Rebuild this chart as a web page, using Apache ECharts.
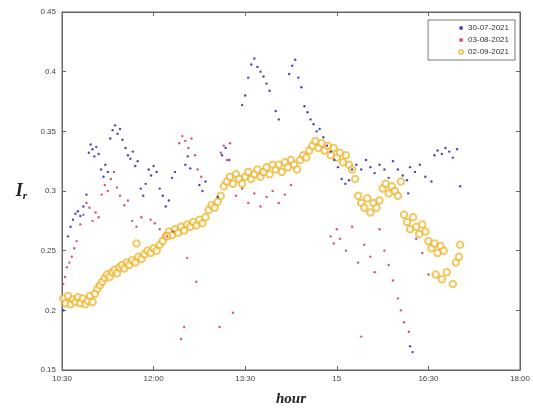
<!DOCTYPE html>
<html><head><meta charset="utf-8">
<script src="https://cdn.jsdelivr.net/npm/echarts@6/dist/echarts.min.js"></script>
<style>html,body{margin:0;padding:0;background:#fff}#c{width:533px;height:412px}</style>
</head><body><div id="c"></div>
<script>
// ---- data ----
var seriesNames = ['30-07-2021', '03-08-2021', '02-09-2021'];
var xTickLabels = ['10:30', '12:00', '13:30', '15', '16:30', '18:00'];

// 30-07-2021 (hour, I_r)
var blueT = [10.52,10.60,10.64,10.68,10.72,10.76,10.80,10.85,10.90,10.94,10.97,11.00,11.03,11.06,11.10,11.14,11.18,11.21,11.25,11.29,11.33,11.37,11.41,11.45,11.49,11.54,11.58,11.62,11.66,11.70,11.74,11.79,11.83,11.87,11.92,11.96,12.00,12.05,12.10,12.15,12.20,12.25,12.30,12.35,12.52,12.56,12.60,12.75,12.80,12.85,13.05,13.12,13.18,13.24,13.45,13.50,13.55,13.60,13.65,13.70,13.75,13.80,13.85,13.90,14.00,14.05,14.22,14.27,14.32,14.37,14.42,14.47,14.52,14.57,14.62,14.67,14.72,14.78,14.84,14.90,14.96,15.02,15.08,15.14,15.20,15.25,15.32,15.40,15.48,15.55,15.62,15.70,15.78,15.85,15.92,16.00,16.08,16.15,16.20,16.28,16.36,16.45,16.55,16.60,16.65,16.72,16.78,16.84,16.90,16.97,17.02,16.17,16.20,16.24];
var blueV = [0.200,0.262,0.270,0.276,0.281,0.283,0.279,0.287,0.297,0.332,0.339,0.335,0.329,0.337,0.331,0.318,0.312,0.322,0.316,0.344,0.351,0.355,0.348,0.352,0.343,0.336,0.330,0.327,0.333,0.321,0.325,0.302,0.296,0.306,0.318,0.313,0.321,0.316,0.302,0.296,0.287,0.292,0.311,0.316,0.322,0.329,0.319,0.305,0.300,0.308,0.295,0.330,0.336,0.326,0.372,0.380,0.395,0.406,0.411,0.404,0.400,0.396,0.390,0.384,0.367,0.360,0.398,0.405,0.410,0.395,0.387,0.371,0.366,0.360,0.356,0.350,0.352,0.345,0.338,0.333,0.326,0.320,0.310,0.306,0.309,0.318,0.322,0.318,0.326,0.320,0.315,0.322,0.318,0.311,0.325,0.318,0.313,0.309,0.320,0.316,0.322,0.312,0.308,0.330,0.334,0.331,0.336,0.333,0.328,0.335,0.304,0.298,0.170,0.165,0.160];

// 03-08-2021
var redT = [10.52,10.55,10.58,10.62,10.66,10.70,10.74,10.80,10.85,10.90,10.95,11.00,11.05,11.10,11.15,11.20,11.25,11.30,11.35,11.40,11.45,11.52,11.58,11.65,11.72,11.80,11.95,12.02,12.10,12.22,12.32,12.42,12.47,12.52,12.57,12.62,12.68,12.72,12.78,12.55,12.70,12.50,12.45,13.10,13.15,13.20,13.25,13.08,13.30,13.35,13.45,13.55,13.65,13.75,13.85,13.95,14.05,14.15,14.25,14.90,14.95,15.00,15.05,15.15,15.25,15.35,15.45,15.55,15.62,15.70,15.78,15.85,15.92,16.00,16.05,16.10,16.18,15.40,16.30,16.40,16.50];
var redV = [0.222,0.228,0.236,0.240,0.245,0.252,0.258,0.272,0.280,0.290,0.286,0.275,0.282,0.278,0.297,0.305,0.300,0.310,0.316,0.303,0.296,0.288,0.292,0.275,0.270,0.278,0.276,0.273,0.268,0.262,0.266,0.340,0.346,0.342,0.336,0.344,0.330,0.318,0.312,0.244,0.224,0.186,0.176,0.332,0.338,0.326,0.340,0.186,0.198,0.296,0.302,0.290,0.298,0.287,0.295,0.300,0.290,0.297,0.305,0.262,0.256,0.268,0.260,0.250,0.270,0.240,0.255,0.245,0.232,0.268,0.250,0.238,0.225,0.210,0.200,0.190,0.182,0.178,0.260,0.248,0.230];

// 02-09-2021
var yelT = [10.52,10.56,10.60,10.64,10.68,10.72,10.76,10.80,10.84,10.88,10.92,10.96,11.00,11.04,11.08,11.12,11.16,11.20,11.24,11.28,11.32,11.36,11.40,11.44,11.48,11.52,11.56,11.60,11.65,11.70,11.75,11.80,11.85,11.90,11.95,12.00,12.05,12.10,12.15,12.20,12.25,12.30,12.35,12.40,12.45,12.50,12.55,12.60,12.65,12.70,12.75,12.80,12.85,12.90,12.95,13.00,13.05,13.10,13.15,13.20,13.25,13.30,13.35,13.40,13.45,13.50,13.55,13.60,13.65,13.70,13.75,13.80,13.85,13.90,13.95,14.00,14.05,14.10,14.15,14.20,14.25,14.30,14.35,14.40,14.45,14.50,14.55,14.60,14.65,14.70,14.75,14.80,14.85,14.90,14.95,15.00,15.05,15.10,15.15,15.20,15.25,15.30,15.35,15.40,15.45,15.50,15.55,15.60,15.65,15.70,15.75,15.80,15.85,15.90,15.95,16.00,16.05,16.10,16.15,16.20,16.25,16.30,16.35,16.40,16.45,16.50,16.55,16.60,16.65,16.70,16.75,16.62,16.72,16.80,16.90,16.95,17.00,17.02,11.72,12.22];
var yelV = [0.210,0.206,0.212,0.205,0.209,0.207,0.211,0.206,0.210,0.205,0.208,0.212,0.207,0.214,0.218,0.221,0.224,0.227,0.230,0.228,0.232,0.234,0.231,0.236,0.238,0.235,0.240,0.238,0.242,0.240,0.245,0.243,0.247,0.250,0.248,0.252,0.250,0.255,0.258,0.262,0.266,0.263,0.268,0.265,0.270,0.267,0.272,0.270,0.274,0.271,0.276,0.273,0.278,0.284,0.288,0.286,0.291,0.296,0.304,0.308,0.312,0.306,0.314,0.310,0.306,0.312,0.316,0.310,0.314,0.318,0.312,0.316,0.320,0.314,0.322,0.318,0.322,0.316,0.324,0.320,0.326,0.322,0.318,0.326,0.330,0.328,0.334,0.338,0.342,0.336,0.340,0.334,0.338,0.330,0.336,0.328,0.332,0.324,0.330,0.322,0.318,0.310,0.296,0.290,0.286,0.294,0.282,0.290,0.286,0.292,0.302,0.306,0.298,0.304,0.300,0.296,0.308,0.280,0.274,0.268,0.278,0.270,0.264,0.272,0.266,0.258,0.252,0.256,0.248,0.254,0.250,0.230,0.226,0.232,0.222,0.240,0.245,0.255,0.256,0.262];

function pairs(t, v) { return t.map(function (x, i) { return [x, v[i]]; }); }

var chart = echarts.init(document.getElementById('c'), null, { renderer: 'canvas' });
var lblFont = { fontFamily: 'Liberation Sans, Arial, sans-serif', fontSize: 8, color: '#444' };
var axisLineStyle = { lineStyle: { color: '#666', width: 1 } };
var tick = { show: true, inside: true, length: 4, lineStyle: { color: '#666' } };

chart.setOption({
  animation: false,
  backgroundColor: '#fff',
  grid: { left: 62, right: 12, top: 12, bottom: 35, show: true, borderColor: '#666', borderWidth: 1 },
  legend: {
    orient: 'vertical', right: 18, top: 20,
    borderColor: '#555', borderWidth: 0.8, borderRadius: 0,
    padding: [4, 6, 4, 30], itemGap: 4, itemWidth: 4, itemHeight: 4,
    textStyle: { fontFamily: 'Liberation Sans, Arial, sans-serif', fontSize: 8, color: '#333' },
    data: [
      { name: seriesNames[0], icon: 'circle' },
      { name: seriesNames[1], icon: 'circle' },
      { name: seriesNames[2], icon: 'emptyCircle' }
    ]
  },
  xAxis: [{
    type: 'value', min: 10.5, max: 18, interval: 1.5,
    axisLine: axisLineStyle, axisTick: tick, splitLine: { show: false },
    axisLabel: Object.assign({ margin: 5, formatter: function (v) { return xTickLabels[Math.round((v - 10.5) / 1.5)]; } }, lblFont),
    name: 'hour', nameLocation: 'middle', nameGap: 22,
    nameTextStyle: { fontFamily: 'Liberation Serif, Times New Roman, serif', fontStyle: 'italic', fontWeight: 'bold', fontSize: 15, color: '#222' }
  }, {
    type: 'value', position: 'top', min: 10.5, max: 18, interval: 1.5,
    axisLine: axisLineStyle, axisTick: tick, axisLabel: { show: false }, splitLine: { show: false }
  }],
  yAxis: [{
    type: 'value', min: 0.15, max: 0.45, interval: 0.05,
    axisLine: axisLineStyle, axisTick: tick, splitLine: { show: false },
    axisLabel: Object.assign({ margin: 6, formatter: function (v) { return String(parseFloat(v.toFixed(2))); } }, lblFont),
    name: '{a|I}{b|r}', nameLocation: 'middle', nameGap: 35, nameRotate: 0,
    nameTextStyle: {
      rich: {
        a: { fontFamily: 'Liberation Serif, Times New Roman, serif', fontStyle: 'italic', fontWeight: 'bold', fontSize: 18, color: '#222' },
        b: { fontFamily: 'Liberation Serif, Times New Roman, serif', fontStyle: 'italic', fontWeight: 'bold', fontSize: 11, color: '#222', padding: [10, 0, 0, 0] }
      }
    }
  }, {
    type: 'value', position: 'right', min: 0.15, max: 0.45, interval: 0.05,
    axisLine: axisLineStyle, axisTick: tick, axisLabel: { show: false }, splitLine: { show: false }
  }],
  series: [
    { name: seriesNames[0], type: 'scatter', data: pairs(blueT, blueV), symbol: 'circle', symbolSize: 2.4,
      itemStyle: { color: '#1c1ca0' }, z: 3 },
    { name: seriesNames[1], type: 'scatter', data: pairs(redT, redV), symbol: 'circle', symbolSize: 2.4,
      itemStyle: { color: '#c8304a' }, z: 3 },
    { name: seriesNames[2], type: 'scatter', data: pairs(yelT, yelV), symbol: 'emptyCircle', symbolSize: 6.5,
      itemStyle: { color: '#EDB120', borderColor: '#EDB120', borderWidth: 0.8, opacity: 0.7 }, z: 2 }
  ]
});
</script></body></html>
